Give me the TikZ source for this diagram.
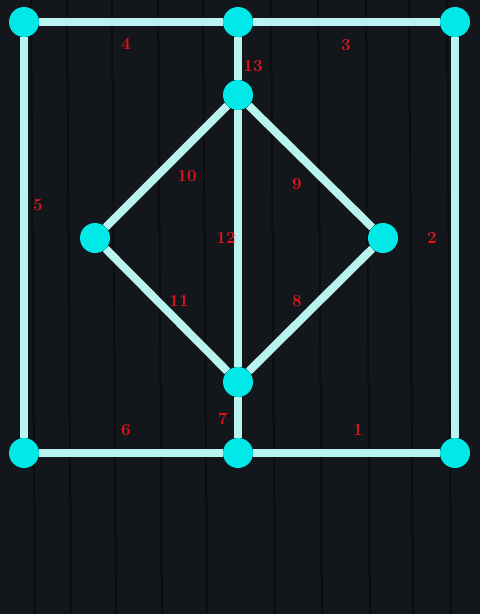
\documentclass[tikz,border=0pt]{standalone}
\usetikzlibrary{backgrounds}
\definecolor{board}{RGB}{19,22,26}
\definecolor{grain}{RGB}{11,13,16}
\definecolor{dotcyan}{RGB}{0,232,232}
\definecolor{linecyan}{RGB}{185,243,240}
\definecolor{numred}{RGB}{225,20,30}
\tikzset{
	dot/.style={circle, fill=dotcyan, minimum size=30pt, inner sep=0pt},
	bar/.style={line width=8pt, color=linecyan},
	num/.style={color=numred, font=\fontsize{17}{17}\selectfont\bfseries, inner sep=0pt}
}
\begin{document}
\begin{tikzpicture}[x=1pt, y=-1pt]
		\useasboundingbox (0, 0) rectangle (480, 614);

		\node[dot] (tl) at (24, 22) {};
		\node[dot] (tm) at (238, 22) {};
		\node[dot] (tr) at (455, 22) {};
		\node[dot] (top) at (238, 95) {};
		\node[dot] (left) at (95, 238) {};
		\node[dot] (right) at (383, 238) {};
		\node[dot] (bot) at (238, 382) {};
		\node[dot] (bl) at (24, 453) {};
		\node[dot] (bm) at (238, 453) {};
		\node[dot] (br) at (455, 453) {};

		\begin{scope}[on background layer]
			\fill[board] (0, 0) rectangle (480, 614);
			\foreach \gx in {31, 67, 112, 158, 203, 271, 318, 366, 409, 447}
				\draw[grain, line width=2pt] (\gx, 0) -- (\gx + 4, 614);

			\draw[bar] (bm) -- (br);
			\draw[bar] (tr) -- (br);
			\draw[bar] (tm) -- (tr);
			\draw[bar] (tl) -- (tm);
			\draw[bar] (tl) -- (bl);
			\draw[bar] (bl) -- (bm);
			\draw[bar] (bot) -- (bm);
			\draw[bar] (right) -- (bot);
			\draw[bar] (top) -- (right);
			\draw[bar] (top) -- (left);
			\draw[bar] (left) -- (bot);
			\draw[bar] (top) -- (bot);
			\draw[bar] (tm) -- (top);
		\end{scope}

		\node[num] (n1) at (358, 430) {1};
		\node[num] (n2) at (432, 238) {2};
		\node[num] (n3) at (346, 45) {3};
		\node[num] (n4) at (126, 44) {4};
		\node[num] (n5) at (38, 205) {5};
		\node[num] (n6) at (126, 430) {6};
		\node[num] (n7) at (223, 419) {7};
		\node[num] (n8) at (297, 301) {8};
		\node[num] (n9) at (297, 184) {9};
		\node[num] (n10) at (187, 176) {10};
		\node[num] (n11) at (179, 301) {11};
		\node[num] (n12) at (226, 238) {12};
		\node[num] (n13) at (253, 66) {13};
	\end{tikzpicture}
\end{document}
